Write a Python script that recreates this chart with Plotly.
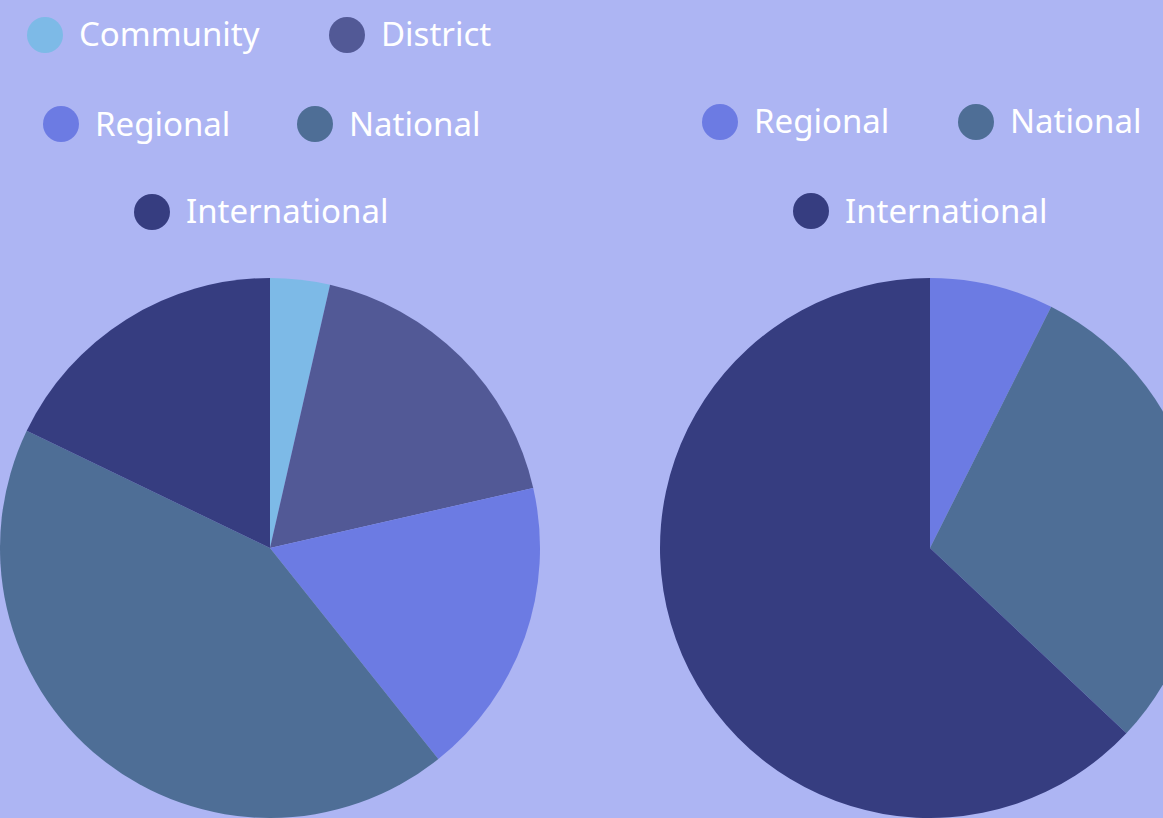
import plotly.graph_objects as go

# ---- data ----
left_categories = ["Community", "District", "Regional", "National", "International"]
left_values = [2, 10, 10, 24, 10]
right_categories = ["Regional", "National", "International"]
right_values = [2, 8, 17]

colors = {
    "Community": "#7DBAE7",
    "District": "#525996",
    "Regional": "#6C7BE3",
    "National": "#4E6E96",
    "International": "#363D80",
}

BG = "#ADB5F3"
W, H = 1200, 818
FONT = "Noto Sans"

# legend layout (pixel positions of circle centres): style only
left_legend_pos = {
    "Community": (45, 35), "District": (347, 35),
    "Regional": (61, 124), "National": (315, 124),
    "International": (152, 212),
}
right_legend_pos = {
    "Regional": (720, 122), "National": (976, 122),
    "International": (811, 211),
}

fig = go.Figure()

def add_pie(cats, vals, xdom):
    fig.add_trace(go.Pie(
        labels=cats, values=vals,
        marker=dict(colors=[colors[c] for c in cats], line=dict(width=0)),
        sort=False, direction="clockwise", rotation=0,
        textinfo="none", hoverinfo="label+value+percent",
        showlegend=False,
        domain=dict(x=xdom, y=[0, (H - 278) / H]),
    ))

add_pie(left_categories, left_values, [0, 540 / W])
add_pie(right_categories, right_values, [660 / W, 1.0])

shapes, annotations = [], []
def add_legend(cats, pos):
    for c in cats:
        cx, cy = pos[c]
        px, py = cx / W, 1 - cy / H
        shapes.append(dict(
            type="circle", xref="paper", yref="paper",
            xsizemode="pixel", ysizemode="pixel",
            xanchor=px, yanchor=py, x0=-18, x1=18, y0=-18, y1=18,
            fillcolor=colors[c], line=dict(width=0),
        ))
        annotations.append(dict(
            text=c, xref="paper", yref="paper",
            x=(cx + 32) / W, y=py + 1 / H, xanchor="left", yanchor="middle",
            showarrow=False, font=dict(family=FONT, size=33, color="white"),
        ))

add_legend(left_categories, left_legend_pos)
add_legend(right_categories, right_legend_pos)

fig.update_layout(
    width=W, height=H, autosize=False,
    margin=dict(l=0, r=0, t=0, b=0),
    paper_bgcolor=BG, plot_bgcolor=BG,
    shapes=shapes, annotations=annotations,
    font=dict(family=FONT),
)

fig.write_html("out.html", post_script="document.body.style.margin='0';document.body.style.overflow='hidden';document.documentElement.style.overflow='hidden';")
